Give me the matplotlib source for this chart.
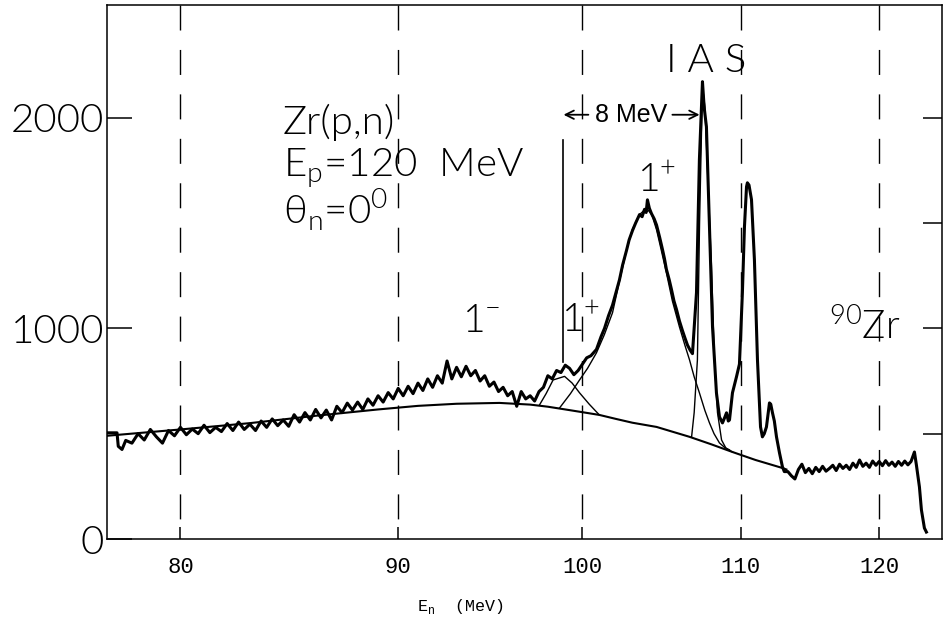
import numpy as np
import matplotlib
matplotlib.use('Agg')
import matplotlib.pyplot as plt

# ---- measured neutron spectrum: Zr(p,n), Ep = 120 MeV, 0 deg ----
# continuum part (E_n in MeV, counts)
e_cont = [77.0, 77.4, 77.45, 77.6, 77.75,
          78.0, 78.25, 78.5, 78.75, 79.0, 79.25, 79.5, 79.75,
          80.0, 80.25, 80.5, 80.75, 81.0, 81.25, 81.5, 81.75,
          82.0, 82.25, 82.5, 82.75, 83.0, 83.25, 83.5, 83.75,
          84.0, 84.25, 84.5, 84.75, 85.0, 85.25, 85.5, 85.75,
          86.0, 86.25, 86.5, 86.75, 87.0, 87.25, 87.5, 87.75,
          88.0, 88.25, 88.5, 88.75, 89.0, 89.25, 89.5, 89.75,
          90.0, 90.25, 90.5, 90.75, 91.0, 91.25, 91.5, 91.75,
          92.0, 92.25, 92.5, 92.75, 93.0, 93.25, 93.5, 93.75,
          94.0, 94.25, 94.5, 94.75, 95.0, 95.25, 95.5, 95.75,
          96.0, 96.25, 96.5, 96.75, 97.0, 97.25, 97.5, 97.75, 98.0]
n_cont = [504, 504, 440, 425, 468,
          455, 500, 470, 520, 485, 455, 515, 490,
          530, 495, 522, 500, 540, 505, 530, 510,
          548, 515, 555, 520, 545, 515, 560, 530,
          570, 538, 565, 535, 590, 555, 600, 565,
          615, 575, 612, 565, 630, 600, 645, 612,
          650, 615, 665, 635, 680, 650, 695, 665,
          715, 680, 725, 690, 740, 705, 760, 720,
          775, 740, 845, 760, 815, 770, 820, 775,
          800, 750, 775, 725, 745, 700, 720, 680,
          700, 630, 700, 665, 680, 655, 700, 720, 775]

# resonance region (1+ states, IAS and low lying states)
e_peak = [98.25, 98.5, 98.75, 99.0, 99.25, 99.5, 99.75, 100.0, 100.25, 100.5,
          100.83, 101.1, 101.31, 101.55, 101.79, 102.0, 102.21, 102.4, 102.64,
          102.8, 103.01, 103.2, 103.44, 103.6, 103.75, 103.85, 103.93, 104.05,
          104.18, 104.35, 104.5, 104.7, 104.87, 105.0, 105.12, 105.3, 105.44,
          105.6, 105.76, 105.95, 106.14, 106.3, 106.47, 106.65, 106.79,
          107.05, 107.24, 107.44, 107.55, 107.7, 107.9, 108.1, 108.36, 108.56,
          108.76, 108.9, 109.03, 109.15, 109.23, 109.43, 109.7, 109.9, 110.1,
          110.24, 110.38, 110.44, 110.55, 110.72, 110.92, 111.13, 111.34,
          111.47, 111.6, 111.75, 111.96, 112.05, 112.17, 112.3, 112.45,
          112.66, 112.87, 113.0]
n_peak = [760, 800, 790, 825, 810, 780, 800, 830, 860, 870,
          900, 960, 1000, 1060, 1110, 1170, 1230, 1300, 1370,
          1420, 1465, 1500, 1540, 1530, 1565, 1550, 1610, 1570,
          1545, 1520, 1490, 1430, 1375, 1330, 1280, 1230, 1185,
          1130, 1090, 1035, 990, 955, 920, 895, 880,
          1169, 1801, 2171, 2050, 1957, 1482, 1007, 694, 580,
          551, 575, 599, 560, 565, 694, 770, 830, 1169,
          1482, 1672, 1691, 1680, 1611, 1326, 850, 532,
          485, 500, 532, 646, 640, 599, 560, 485,
          409, 342, 320]

# high energy tail and cut-off
e_tail = [113.25, 113.5, 113.75, 114.0, 114.25, 114.5, 114.75, 115.0,
          115.25, 115.5, 115.75, 116.0, 116.25, 116.5, 116.75, 117.0,
          117.25, 117.5, 117.75, 118.0, 118.25, 118.5, 118.75, 119.0,
          119.25, 119.5, 119.75, 120.0, 120.25, 120.5, 120.75, 121.0,
          121.25, 121.5, 121.75, 122.0, 122.25, 122.5, 122.77, 122.93,
          123.17, 123.33, 123.57, 123.73]
n_tail = [320, 300, 285, 330, 355, 315, 335, 310,
          340, 320, 345, 322, 335, 350, 325, 355,
          335, 350, 330, 360, 340, 375, 345, 360,
          340, 370, 350, 368, 348, 372, 350, 365,
          345, 368, 350, 370, 352, 368, 413, 350,
          247, 138, 52, 33]

# ---- fitted curves ----
e_bg = [77.0, 80.0, 83.0, 86.0, 89.0, 91.0, 93.0, 95.3, 97.0, 98.0, 99.0,
        100.0, 101.0, 102.0, 103.0, 104.5, 106.6, 108.0, 109.43, 111.0,
        112.87, 113.15]
n_bg = [490, 520, 550, 585, 615, 632, 642, 646, 638, 628, 615,
        602, 589, 570, 552, 532, 485, 450, 413, 375, 337, 330]

e_1p_low = [97.53, 97.9, 98.3, 98.96, 99.4, 99.83, 100.4, 101.0]
n_1p_low = [637, 690, 755, 772, 740, 694, 640, 589]

e_1p = [98.67, 99.3, 99.83, 100.3, 100.83, 101.3, 101.79, 102.2, 102.64,
        103.0, 103.44, 103.87, 104.2, 104.5, 104.8, 105.12, 105.5, 105.95,
        106.3, 106.6, 106.9, 107.24, 107.6, 107.9, 108.2, 108.56, 108.9,
        109.23]
n_1p = [622, 690, 755, 810, 884, 970, 1074, 1220, 1370,
        1470, 1540, 1570, 1540, 1468, 1370, 1264, 1130, 1007,
        920, 850, 770, 694, 610, 551, 500, 456, 435, 423]

e_ias = [106.73, 106.9, 107.11, 107.25, 107.44, 107.6, 107.77, 108.03,
         108.23, 108.43, 108.7, 109.0, 109.43]
n_ias = [483, 600, 850, 1500, 2150, 2050, 1750, 1300, 850, 600, 470, 430, 413]

grid_e = [80, 90, 100, 110, 120]
x_labels = ['80', '90', '100', '110', '120']
y_ticks = [0, 1000, 2000]
y_labels = ['0', '1000', '2000']
y_ticks_right = [500, 1000, 1500, 2000]

hfont = ['Lato', 'DejaVu Sans']
mono = ['Liberation Mono', 'DejaVu Sans Mono']
wt = 300

fig = plt.figure(figsize=(9.45, 6.31), dpi=100)
ax = fig.add_axes([0.1132, 0.1458, 0.8836, 0.8463])

# time-of-flight like energy axis: linear in 1/sqrt(E)
ax.set_xscale('function', functions=(lambda e: -1.0 / np.sqrt(e),
                                     lambda v: 1.0 / v ** 2))
ax.set_xlim(77.0, 125.0)
ax.set_ylim(0, 2535)

for e in grid_e:
    ax.plot([e, e], [2535, 0], color='black', lw=1.0,
            linestyle=(0, (18, 14)), zorder=1)

e_spec = e_cont + e_peak + e_tail
n_spec = n_cont + n_peak + n_tail
ax.plot(e_spec, n_spec, color='black', lw=2.2, zorder=4)

ax.plot(e_bg, n_bg, color='black', lw=1.5, zorder=3)
ax.plot(e_1p_low, n_1p_low, color='black', lw=1.0, zorder=3)
ax.plot(e_1p, n_1p, color='black', lw=1.0, zorder=3)
ax.plot(e_ias, n_ias, color='black', lw=1.0, zorder=3)

# 8 MeV marker
ax.plot([98.84, 98.84], [1896, 841], color='black', lw=1.2, zorder=3)
ax.text(102.95, 2014, '8 MeV', fontsize=18, va='center', ha='center',
        family=['Liberation Sans', 'DejaVu Sans'])
ax.annotate('', xy=(98.9, 2014), xytext=(100.35, 2014),
            arrowprops=dict(arrowstyle='->,head_length=0.6,head_width=0.3',
                            color='black', lw=1.3, shrinkA=0, shrinkB=0))
ax.annotate('', xy=(107.25, 2014), xytext=(105.5, 2014),
            arrowprops=dict(arrowstyle='->,head_length=0.6,head_width=0.3',
                            color='black', lw=1.3, shrinkA=0, shrinkB=0))

# labels
ax.text(84.47, 1924, 'Zr(p,n)', fontsize=29, family=hfont, weight=wt)
ax.text(84.47, 1720, r'E$_\mathregular{p}$=120  MeV', fontsize=29,
        family=hfont, weight=wt)
ax.text(84.47, 1497, '\u03b8' + r'$_\mathregular{n}$=0$^\mathregular{0}$',
        fontsize=29, family=hfont, weight=wt)
ax.text(107.7, 2219, 'I A S', fontsize=29, family=hfont, weight=wt, ha='center')
ax.text(103.3, 1649, r'1$^\mathregular{+}$', fontsize=28, family=hfont, weight=wt)
ax.text(93.26, 983, r'1$^\mathregular{-}$', fontsize=28, family=hfont, weight=wt)
ax.text(98.75, 983, r'1$^\mathregular{+}$', fontsize=28, family=hfont, weight=wt)
ax.text(116.25, 945, r'$^\mathregular{90}$Zr', fontsize=28, family=hfont, weight=wt)

# axes styling
for s in ax.spines.values():
    s.set_linewidth(1.1)
ax.set_xticks(grid_e, labels=x_labels, fontsize=16, family=mono)
ax.minorticks_off()
ax.set_yticks(y_ticks, labels=y_labels, fontsize=29, family=hfont, weight=wt)
ax.tick_params(axis='x', direction='in', length=9, width=1.1, pad=13)
ax.tick_params(axis='y', direction='in', length=18, width=1.1, pad=2)

ax_r = ax.twinx()
ax_r.set_ylim(0, 2535)
ax_r.set_yticks(y_ticks_right)
ax_r.tick_params(axis='y', direction='in', length=14, width=1.1, labelright=False)
for s in ax_r.spines.values():
    s.set_visible(False)

fig.text(460 / 945, 1 - 606 / 631, r'E$_\mathregular{n}$  (MeV)', fontsize=12,
         family=mono, ha='center', va='center')

fig.savefig('out.png', dpi=100)
